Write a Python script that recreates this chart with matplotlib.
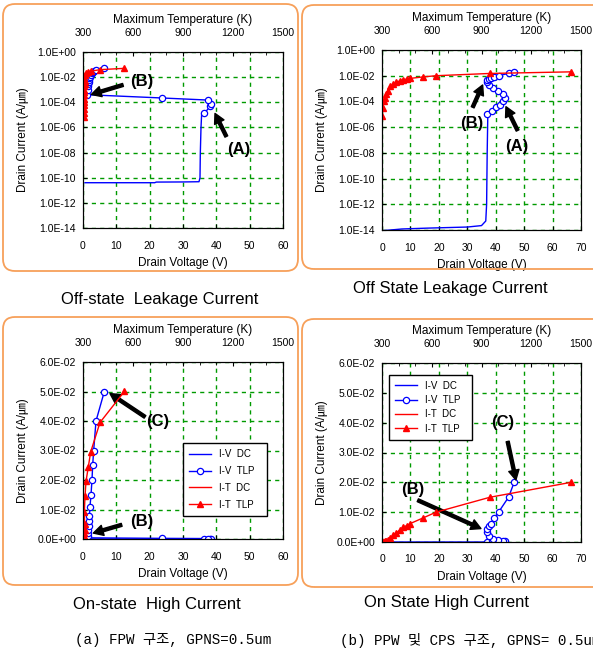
#!/usr/bin/env python
from matplotlib import pyplot as plt
from matplotlib.patches import FancyBboxPatch
from matplotlib.ticker import FuncFormatter, MultipleLocator
import numpy as np

plt.rcParams['font.family'] = ['Liberation Sans', 'Noto Sans CJK KR']

# ---- data (a)/(c): FPW structure ----
fpw_dc_v = [0.6, 10, 21.5, 22, 30, 34.8, 35.1, 35.2, 35.4, 35.6]
fpw_dc_i = [4e-11, 4e-11, 4e-11, 4.5e-11, 4.6e-11, 4.8e-11, 1e-10, 1e-8, 1e-6, 1.2e-5]
fpw_tlp_v = [36.3, 38.2, 38.5, 37.5, 23.7, 1.3, 1.4, 1.5, 1.6, 1.7, 1.8, 1.9, 2.1, 2.4, 2.7, 2.9, 3.2, 3.9, 6.4]
fpw_tlp_i = [1.3e-5, 4.7e-5, 8e-5, 1.5e-4, 2.2e-4, 4e-4, 1e-3, 2e-3, 3e-3, 4.5e-3, 6e-3, 7.8e-3,
             1.1e-2, 1.5e-2, 2.0e-2, 2.5e-2, 3.0e-2, 4.0e-2, 5.0e-2]
fpw_tdc_t = [300, 300, 301]
fpw_tdc_i = [1e-11, 1e-7, 5e-6]
fpw_ttlp_t = [304, 304, 305, 306, 306, 306, 307, 308, 308, 309, 310, 310, 308, 312, 318, 332, 346, 402, 548]
fpw_ttlp_i = [7e-6, 1.5e-5, 3e-5, 6e-5, 1e-4, 2e-4, 4e-4, 7e-4, 1e-3, 2e-3, 3e-3, 5e-3, 9e-3,
              1.45e-2, 1.95e-2, 2.45e-2, 2.95e-2, 3.95e-2, 5.0e-2]

# ---- data (b)/(d): PPW + CPS structure ----
ppw_dc_v = [0.5, 3, 7, 16, 30, 35, 36.5, 36.8, 37.0, 37.2]
ppw_dc_i = [9e-15, 1e-14, 1.2e-14, 1.4e-14, 1.7e-14, 2.2e-14, 5e-14, 1e-12, 1e-8, 5e-6]
ppw_tlp_v = [37.1, 38.6, 40.0, 41.5, 42.7, 43.4, 42.5, 40.7, 39.0, 37.8, 37.0, 36.8, 37.5, 38.4, 39.5, 41.0, 44.5, 46.5]
ppw_tlp_i = [1.1e-5, 1.9e-5, 3.5e-5, 5.6e-5, 1.1e-4, 2e-4, 3.5e-4, 6.3e-4, 1.1e-3, 1.9e-3, 3.4e-3,
             4.5e-3, 5.5e-3, 6.2e-3, 7.9e-3, 1.0e-2, 1.5e-2, 2.0e-2]
ppw_tdc_t = [300, 300, 301]
ppw_tdc_i = [1.05e-14, 1e-10, 6e-6]
ppw_ttlp_t = [300, 305, 310, 317, 326, 338, 351, 369, 386, 408, 429, 449, 471, 545, 626, 951, 1440]
ppw_ttlp_i = [7e-6, 3e-5, 1e-4, 2e-4, 4e-4, 7e-4, 1.5e-3, 2.2e-3, 3e-3, 4e-3, 5e-3, 5.5e-3,
              6.2e-3, 8e-3, 1e-2, 1.5e-2, 2e-2]

temp_ticks = [300, 600, 900, 1200, 1500]
legend_labels = ['I-V  DC', 'I-V  TLP', 'I-T  DC', 'I-T  TLP']

BLUE = '#0000ff'
RED = '#ff0000'
GREEN = '#009a00'
ORANGE = '#f7a05a'

W, H = 593, 659
fig = plt.figure(figsize=(W / 100, H / 100), dpi=100)


def place(l, r, t, b):
	return [l / W, 1 - b / H, (r - l) / W, (b - t) / H]


sci = FuncFormatter(lambda v, p: '{:.1E}'.format(v))


def panel(rect, vmax, logy, dc_v, dc_i, tlp_v, tlp_i, tdc_t, tdc_i, ttlp_t, ttlp_i):
	ax = fig.add_axes(place(*rect))
	ax2 = ax.twiny()
	if logy:
		ax.set_yscale('log')
		ax.set_ylim(1e-14, 1e0)
		ax.set_yticks([10.0 ** k for k in range(-14, 1, 2)])
		ax.yaxis.set_minor_locator(plt.NullLocator())
	else:
		ax.set_ylim(0, 0.06)
		ax.set_yticks(np.arange(0, 0.061, 0.01))
	ax.yaxis.set_major_formatter(sci)
	ax.set_xlim(0, vmax)
	ax.xaxis.set_major_locator(MultipleLocator(10))
	ax2.set_xlim(300, 1500)
	ax2.set_xticks(temp_ticks)
	ax2.xaxis.set_minor_locator(MultipleLocator(100))

	ax.grid(True, color=GREEN, linestyle=(0, (3, 3)), lw=1)
	l1, = ax.plot(dc_v, dc_i, color=BLUE, lw=1)
	l2, = ax.plot(tlp_v, tlp_i, color=BLUE, lw=1, marker='o', ms=4.5, mfc='white', mew=0.9)
	l3, = ax2.plot(tdc_t, tdc_i, color=RED, lw=1)
	l4, = ax2.plot(ttlp_t, ttlp_i, color=RED, lw=1, marker='^', ms=5)

	ax.tick_params(direction='in', length=3, labelsize=7.5, pad=5)
	ax.tick_params(axis='x', pad=9)
	ax2.tick_params(direction='in', length=3, labelsize=7.5, pad=10)
	ax2.tick_params(which='minor', direction='in', length=2)
	ax.set_xlabel('Drain Voltage (V)', fontsize=8.5, labelpad=5)
	ax.set_ylabel('Drain Current (A/㎛)', fontsize=8.5, labelpad=6)
	ax2.set_xlabel('Maximum Temperature (K)', fontsize=8.5, labelpad=4)
	return ax, ax2, [l1, l2, l3, l4]


def arrow(ax, text, tx, ty, x0, y0, x1, y1):
	ax.annotate('', xy=(x1, y1), xytext=(x0, y0),
				arrowprops=dict(facecolor='black', edgecolor='black', width=2.2,
								headwidth=7.5, headlength=7, shrink=0))
	ax.text(tx, ty, text, fontsize=12, fontweight='bold', ha='center', va='center')


def box(x0, x1, y0, y1):
	p = FancyBboxPatch((x0 / 100, (H - y1) / 100), (x1 - x0) / 100, (y1 - y0) / 100,
					   boxstyle='round,pad=0,rounding_size=0.12', transform=fig.dpi_scale_trans,
					   fill=False, edgecolor=ORANGE, lw=1.3)
	fig.add_artist(p)


def legend(ax2, h, anchor, spacing):
	leg = ax2.legend(h, legend_labels, loc='upper left', bbox_to_anchor=anchor, mode='expand',
					 fontsize=7, frameon=True, fancybox=False, framealpha=1, edgecolor='black',
					 labelspacing=spacing, handlelength=2.3, borderpad=0.6, borderaxespad=0)
	leg.get_frame().set_linewidth(1)


# (a) off-state, FPW
ax, ax2, h = panel((83, 283, 52, 228), 60, True, fpw_dc_v, fpw_dc_i, fpw_tlp_v, fpw_tlp_i,
				   fpw_tdc_t, fpw_tdc_i, fpw_ttlp_t, fpw_ttlp_i)
arrow(ax, '(B)', 17.6, 4.8e-3, 12, 2.4e-3, 2.5, 4.2e-4)
arrow(ax, '(A)', 46.8, 1.7e-8, 43, 1.9e-7, 39.6, 1.3e-5)

# (b) off-state, PPW + CPS
ax, ax2, h = panel((382, 581, 50, 230), 70, True, ppw_dc_v, ppw_dc_i, ppw_tlp_v, ppw_tlp_i,
				   ppw_tdc_t, ppw_tdc_i, ppw_ttlp_t, ppw_ttlp_i)
arrow(ax, '(B)', 31.7, 2.1e-6, 31.9, 3.5e-5, 35.4, 1.9e-3)
arrow(ax, '(A)', 47.3, 3e-8, 47.7, 5.5e-7, 43.6, 3.9e-5)

# (c) on-state, FPW
ax, ax2, h = panel((83, 283, 362, 539), 60, False, fpw_dc_v, fpw_dc_i, fpw_tlp_v, fpw_tlp_i,
				   fpw_tdc_t, fpw_tdc_i, fpw_ttlp_t, fpw_ttlp_i)
arrow(ax, '(C)', 22.4, 3.97e-2, 18.6, 4.14e-2, 8.1, 4.93e-2)
arrow(ax, '(B)', 17.6, 0.6e-2, 11.6, 0.48e-2, 3.1, 0.2e-2)
legend(ax2, h, (0.5, 0.14, 0.42, 0.40), 0.7)

# (d) on-state, PPW + CPS
ax, ax2, h = panel((382, 581, 363, 542), 70, False, ppw_dc_v, ppw_dc_i, ppw_tlp_v, ppw_tlp_i,
				   ppw_tdc_t, ppw_tdc_i, ppw_ttlp_t, ppw_ttlp_i)
arrow(ax, '(C)', 42.4, 4.01e-2, 44.2, 3.37e-2, 47.1, 2.08e-2)
arrow(ax, '(B)', 10.8, 1.77e-2, 12.6, 1.4e-2, 34.8, 0.45e-2)
legend(ax2, h, (0.034, 0.58, 0.42, 0.354), 0.45)

# frames and captions
box(3, 298, 4, 271)
box(302, 610, 5, 269)
box(3, 298, 317, 585)
box(302, 610, 319, 587)

fig.text(160 / W, 1 - 300 / H, 'Off-state  Leakage Current', fontsize=12, ha='center', va='center')
fig.text(450 / W, 1 - 288 / H, 'Off State Leakage Current', fontsize=12, ha='center', va='center')
fig.text(157 / W, 1 - 604 / H, 'On-state  High Current', fontsize=12, ha='center', va='center')
fig.text(446 / W, 1 - 603 / H, 'On State High Current', fontsize=12, ha='center', va='center')

cap_font = ['Liberation Mono', 'Noto Sans CJK KR']
fig.text(75 / W, 1 - 640 / H, '(a) FPW 구조, GPNS=0.5um', fontsize=10.3, ha='left', va='center', family=cap_font)
fig.text(340 / W, 1 - 640 / H, '(b) PPW 및 CPS 구조, GPNS= 0.5um', fontsize=10.3, ha='left', va='center', family=cap_font)

fig.savefig('out.png', dpi=100)
